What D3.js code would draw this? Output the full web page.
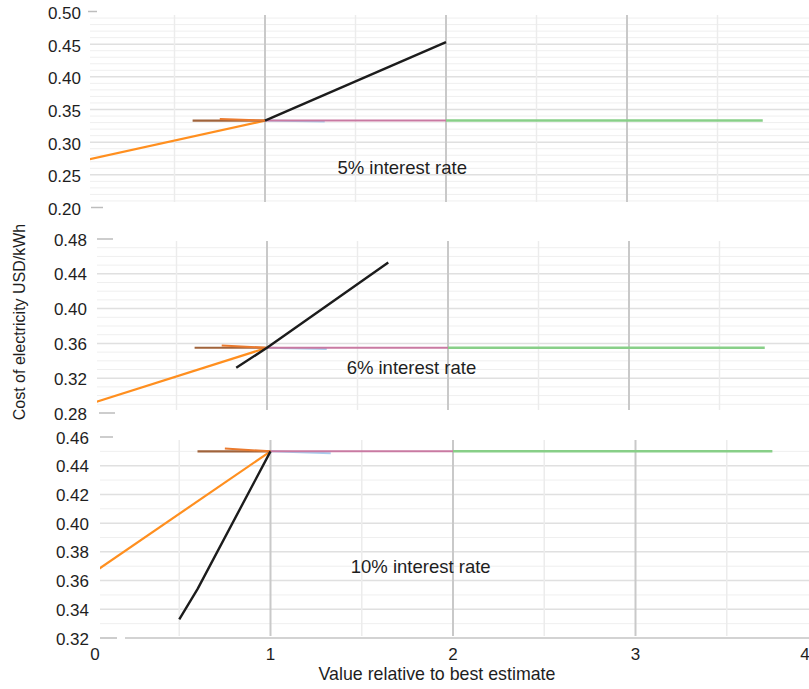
<!DOCTYPE html>
<html>
<head>
<meta charset="utf-8">
<script src="https://cdn.jsdelivr.net/npm/d3@7"></script>
<style>
  html, body { margin: 0; padding: 0; background: #fff; }
  svg { display: block; font-family: "Liberation Sans", Arial, sans-serif; }
</style>
</head>
<body>
<svg id="chart" width="809" height="689"></svg>
<script>
// Shared horizontal axis (value relative to best estimate)
const xTickValues = [0, 1, 2, 3, 4];
const xTitle = "Value relative to best estimate";
const yTitle = "Cost of electricity USD/kWh";

// One panel per interest rate
const panelTitles = ["5% interest rate", "6% interest rate", "10% interest rate"];
const yTicks5 = [0.20, 0.25, 0.30, 0.35, 0.40, 0.45, 0.50];
const yTicks6 = [0.28, 0.32, 0.36, 0.40, 0.44, 0.48];
const yTicks10 = [0.32, 0.34, 0.36, 0.38, 0.40, 0.42, 0.44, 0.46];

// Sensitivity lines, [relative value, cost] pairs — 5% interest rate
const black5 = [[1, 0.333], [2, 0.453]];
const orange5 = [[0, 0.272], [1, 0.333]];
const brown5 = [[0.6, 0.333], [1, 0.333]];
const rust5 = [[0.75, 0.3355], [1, 0.333]];
const blue5 = [[1, 0.333], [1.33, 0.3315]];
const pink5 = [[1, 0.333], [2, 0.333]];
const green5 = [[2, 0.333], [3.75, 0.333]];

// 6% interest rate
const black6 = [[0.83, 0.332], [1, 0.355], [1.67, 0.453]];
const orange6 = [[0, 0.289], [1, 0.355]];
const brown6 = [[0.6, 0.355], [1, 0.355]];
const rust6 = [[0.75, 0.3575], [1, 0.355]];
const blue6 = [[1, 0.355], [1.33, 0.3535]];
const pink6 = [[1, 0.355], [2, 0.355]];
const green6 = [[2, 0.355], [3.75, 0.355]];

// 10% interest rate
const black10 = [[0.5, 0.333], [0.6, 0.354], [1, 0.450]];
const orange10 = [[0, 0.363], [1, 0.450]];
const brown10 = [[0.6, 0.450], [1, 0.450]];
const rust10 = [[0.75, 0.452], [1, 0.450]];
const blue10 = [[1, 0.450], [1.33, 0.4487]];
const pink10 = [[1, 0.450], [2, 0.450]];
const green10 = [[2, 0.450], [3.75, 0.450]];

// Line styles, in drawing order
const lineStyles = [
  { key: "orange", color: "#ff8f1f", width: 2.2 },
  { key: "blue", color: "#a9cdee", width: 2 },
  { key: "pink", color: "#c97aa2", width: 2 },
  { key: "green", color: "#88cf88", width: 2.5 },
  { key: "brown", color: "#a0633b", width: 2.2 },
  { key: "rust", color: "#ea7a2e", width: 2 },
  { key: "black", color: "#1c1c1c", width: 2.4 }
];

const panels = [
  {
    title: panelTitles[0], ticks: yTicks5, minorStep: 0.01,
    yDomain: [0.20, 0.50], yRange: [207.5, 11.5],
    x0: 84, unit: 181, grid: { left: 90, top: 15, bottom: 202 },
    labelX: 81, labelDy: 2, note: [1.40, 0.2605],
    tickTop: [88, 97], tickBottom: [91, 103],
    lines: { black: black5, orange: orange5, brown: brown5, rust: rust5, blue: blue5, pink: pink5, green: green5 }
  },
  {
    title: panelTitles[1], ticks: yTicks6, minorStep: 0.01,
    yDomain: [0.28, 0.48], yRange: [413, 239],
    x0: 86, unit: 181, grid: { left: 97, top: 241, bottom: 410 },
    labelX: 87, labelDy: 1, note: [1.44, 0.3318],
    tickTop: [97, 113], tickBottom: [99, 115],
    lines: { black: black6, orange: orange6, brown: brown6, rust: rust6, blue: blue6, pink: pink6, green: green6 }
  },
  {
    title: panelTitles[2], ticks: yTicks10, minorStep: 0.01,
    yDomain: [0.32, 0.46], yRange: [638, 437],
    x0: 88, unit: 182.5, grid: { left: 100, top: 440, bottom: 636 },
    labelX: 89, labelDy: 1, note: [1.44, 0.370],
    tickTop: [100, 113], tickBottom: [100, 117],
    lines: { black: black10, orange: orange10, brown: brown10, rust: rust10, blue: blue10, pink: pink10, green: green10 }
  }
];

const W = 809;
const svg = d3.select("#chart");
const defs = svg.append("defs");

panels.forEach((p, i) => {
  const x = d3.scaleLinear().domain([0, 4]).range([p.x0, p.x0 + 4 * p.unit]);
  const y = d3.scaleLinear().domain(p.yDomain).range(p.yRange);
  const g = svg.append("g").attr("class", "panel");

  const clipId = "clip" + i;
  defs.append("clipPath").attr("id", clipId)
    .append("rect")
    .attr("x", p.grid.left).attr("y", p.grid.top)
    .attr("width", W - p.grid.left).attr("height", p.grid.bottom - p.grid.top);

  const grid = g.append("g").attr("clip-path", `url(#${clipId})`);

  // minor horizontal grid
  const lo = p.yDomain[0], hi = p.yDomain[1];
  const minors = d3.range(Math.round(lo / p.minorStep), Math.round(hi / p.minorStep) + 1)
    .map(k => k * p.minorStep)
    .filter(v => !p.ticks.some(t => Math.abs(t - v) < 1e-9));
  grid.selectAll("line.hminor").data(minors).join("line")
    .attr("x1", p.grid.left).attr("x2", W)
    .attr("y1", d => y(d)).attr("y2", d => y(d))
    .attr("stroke", "#efefef").attr("stroke-width", 1);

  // major horizontal grid
  grid.selectAll("line.hmajor").data(p.ticks).join("line")
    .attr("x1", p.grid.left).attr("x2", W)
    .attr("y1", d => y(d)).attr("y2", d => y(d))
    .attr("stroke", "#e0e0e0").attr("stroke-width", 1.5);

  // vertical grid: half steps light, whole steps darker
  const vMinor = [0.5, 1.5, 2.5, 3.5];
  grid.selectAll("line.vminor").data(vMinor).join("line")
    .attr("x1", d => x(d)).attr("x2", d => x(d))
    .attr("y1", p.grid.top).attr("y2", p.grid.bottom)
    .attr("stroke", "#ececec").attr("stroke-width", 1.5);
  grid.selectAll("line.vmajor").data([1, 2, 3]).join("line")
    .attr("x1", d => x(d)).attr("x2", d => x(d))
    .attr("y1", p.grid.top).attr("y2", p.grid.bottom)
    .attr("stroke", "#c9c9c9").attr("stroke-width", 2);

  // short axis stubs at the ends of the value range
  g.append("line")
    .attr("x1", p.tickTop[0]).attr("x2", p.tickTop[1])
    .attr("y1", y(hi)).attr("y2", y(hi))
    .attr("stroke", "#bdbdbd").attr("stroke-width", 1.5);
  g.append("line")
    .attr("x1", p.tickBottom[0]).attr("x2", p.tickBottom[1])
    .attr("y1", y(lo)).attr("y2", y(lo))
    .attr("stroke", "#bdbdbd").attr("stroke-width", 1.5);

  // y tick labels
  g.selectAll("text.ytick").data(p.ticks).join("text")
    .attr("x", p.labelX).attr("y", d => y(d) + p.labelDy)
    .attr("text-anchor", "end").attr("dominant-baseline", "central")
    .attr("font-size", 17).attr("fill", "#1e1e1e")
    .text(d => d3.format(".2f")(d));

  // sensitivity lines
  const lineGen = d3.line().x(d => x(d[0])).y(d => y(d[1]));
  const lines = g.append("g").attr("clip-path", `url(#${clipId})`);
  lineStyles.forEach(s => {
    lines.append("path")
      .datum(p.lines[s.key])
      .attr("d", lineGen)
      .attr("fill", "none")
      .attr("stroke", s.color)
      .attr("stroke-width", s.width)
      .attr("stroke-linejoin", "round");
  });

  // panel title
  g.append("text")
    .attr("x", x(p.note[0])).attr("y", y(p.note[1]))
    .attr("dominant-baseline", "central")
    .attr("font-size", 18.5).attr("fill", "#1e1e1e")
    .text(p.title);

  // x axis on the last panel
  if (i === panels.length - 1) {
    g.append("line")
      .attr("x1", 125).attr("x2", W)
      .attr("y1", y(lo)).attr("y2", y(lo))
      .attr("stroke", "#c4c4c4").attr("stroke-width", 1.5);
    g.selectAll("text.xtick").data(xTickValues).join("text")
      .attr("x", d => Math.max(95, Math.min(805, x(d))))
      .attr("y", 660)
      .attr("text-anchor", "middle")
      .attr("font-size", 17).attr("fill", "#1e1e1e")
      .text(d => d);
  }
});

// axis titles
svg.append("text")
  .attr("x", 437).attr("y", 680)
  .attr("text-anchor", "middle")
  .attr("font-size", 17.8).attr("fill", "#1e1e1e")
  .text(xTitle);

svg.append("text")
  .attr("transform", "translate(25,322) rotate(-90)")
  .attr("text-anchor", "middle")
  .attr("font-size", 16).attr("fill", "#1e1e1e")
  .text(yTitle);
</script>
</body>
</html>
